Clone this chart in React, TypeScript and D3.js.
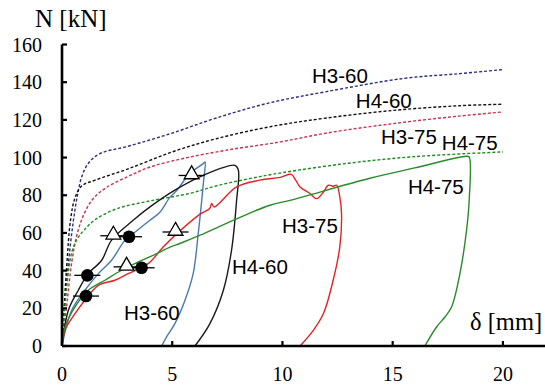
import React from "react";
import * as d3 from "d3";

const W = 545;
const H = 389;

const xTicks = [0, 5, 10, 15, 20];
const yTicks = [0, 20, 40, 60, 80, 100, 120, 140, 160];

// Analytical (dashed) curves
const anH360: [number, number][] = [[0,0],[0.15,25],[0.3,45],[0.5,65],[0.7,80],[0.9,90],[1.2,97],[1.7,102],[3,106],[5,113],[7,121],[9.4,129],[12,135],[15.5,142],[18,144.5],[20,146.7]];
const anH460: [number, number][] = [[0,0],[0.2,40],[0.4,68],[0.6,79],[0.9,85],[1.5,88],[3,94],[5,103],[7,110],[9.5,116.5],[12,121],[15,125],[18,127.5],[20,128.3]];
const anH375: [number, number][] = [[0,0],[0.2,20],[0.45,45],[0.7,60],[1.0,70],[1.4,78],[2,84],[3,90],[4,95],[5.5,99.5],[7.5,104],[9.9,108.3],[12,113],[15,118],[18,122],[20,124.2]];
const anH475: [number, number][] = [[0,0],[0.2,30],[0.45,50],[0.7,57],[1.0,61.5],[1.5,67],[2.5,72.9],[4,77],[5.8,81],[7,85],[8.5,88.8],[10,92],[13,97],[16,100.5],[20,103]];

// Experimental (solid) curves
const exH360: [number, number][] = [[0,0],[0.44,19],[1.04,29.6],[1.65,38.4],[2.25,45.5],[2.86,56.2],[3.23,59.7],[3.99,66.7],[4.44,71],[4.9,79],[5.2,82.5],[5.8,91.5],[6.41,96.8],[6.49,97.7],[6.41,86.2],[6.18,59.7],[5.95,38.4],[5.58,24.3],[5.12,11.9],[4.75,5],[4.52,0]];
const exH460: [number, number][] = [[0,0],[0.29,19],[0.74,29.6],[1.19,38.4],[1.8,45.5],[2.25,56.2],[3.23,66.7],[3.99,73.8],[5.1,82.6],[6.41,90.6],[7.85,95.9],[8.0,93.3],[7.92,77.3],[7.69,50.8],[7.32,29.6],[6.71,11.9],[6.03,0]];
const exH375: [number, number][] = [[0,0],[0.14,8.5],[0.59,17.2],[1.04,24.3],[1.65,32.2],[2.4,34.9],[3.0,38.4],[3.91,43.7],[4.59,52.5],[5.2,59.5],[6.26,70],[6.7,73],[6.79,75.6],[6.9,73.8],[7.92,84.4],[8.98,88],[9.9,89.5],[10.4,91.1],[10.6,88],[10.8,84.4],[11.25,80.9],[11.55,78.2],[11.86,81.7],[12.08,85.3],[12.3,84.8],[12.46,85.3],[12.6,79.1],[12.68,70.3],[12.6,52.5],[12.3,34.9],[11.86,17.2],[11.4,8.3],[10.8,0]];
const exH475: [number, number][] = [[0,0],[0.14,10],[0.59,20.7],[1.19,29.6],[1.95,34.9],[2.7,40.2],[3.46,44.6],[4.2,48.5],[4.9,52.5],[5.35,54.4],[6.26,58.8],[7.92,67.5],[9.43,74.7],[10.34,77.3],[13.97,89],[16,94.5],[18.35,100.7],[18.47,100.3],[18.47,77.3],[18.35,61.4],[18.05,38.4],[17.67,20.7],[17.37,15.4],[16.99,10.1],[16.46,0]];

const circles: [number, number][] = [[1.09,26.5],[1.15,37.5],[3.04,58],[3.61,41.5]];
const triangles: [number, number][] = [[2.33,58.5],[2.93,42],[5.15,60.5],[5.88,90.5]];

const labels: { text: string; x: number; y: number }[] = [
  { text: "H3-60", x: 11.34, y: 139.8 },
  { text: "H4-60", x: 13.33, y: 126.4 },
  { text: "H3-75", x: 14.47, y: 107.4 },
  { text: "H4-75", x: 17.23, y: 104 },
  { text: "H4-75", x: 15.69, y: 80.9 },
  { text: "H3-75", x: 9.98, y: 60 },
  { text: "H4-60", x: 7.71, y: 38.4 },
  { text: "H3-60", x: 2.81, y: 14 },
];

export default function App() {
  const x = d3.scaleLinear().domain([0, 22]).range([62, 547]);
  const y = d3.scaleLinear().domain([0, 160]).range([346, 44.5]);
  const line = d3
    .line<[number, number]>()
    .x((d) => x(d[0]))
    .y((d) => y(d[1]))
    .curve(d3.curveCatmullRom.alpha(0.5));

  const dashed = [
    { data: anH360, color: "#2e2e80" },
    { data: anH460, color: "#111111" },
    { data: anH375, color: "#c8324a" },
    { data: anH475, color: "#1f8a1f" },
  ];
  const solid = [
    { data: exH360, color: "#4a78b0" },
    { data: exH460, color: "#1a1a1a" },
    { data: exH375, color: "#e02424" },
    { data: exH475, color: "#2a8a2a" },
  ];

  const tri = d3.symbol().type(d3.symbolTriangle).size(95)() as string;

  return (
    <svg width={W} height={H} style={{ position: "absolute", left: 0, top: 0, background: "#fff" }}>
      <rect width={W} height={H} fill="#fff" />
      {dashed.map((s, i) => (
        <path key={"d" + i} d={line(s.data) || ""} fill="none" stroke={s.color} strokeWidth={1.4} strokeDasharray="3,2" />
      ))}
      {solid.map((s, i) => (
        <path key={"s" + i} d={line(s.data) || ""} fill="none" stroke={s.color} strokeWidth={1.4} />
      ))}
      {circles.map((p, i) => (
        <g key={"c" + i}>
          <line x1={x(p[0]) - 13} x2={x(p[0]) + 13} y1={y(p[1])} y2={y(p[1])} stroke="#000" strokeWidth={1.3} />
          <circle cx={x(p[0])} cy={y(p[1])} r={6.3} fill="#000" />
        </g>
      ))}
      {triangles.map((p, i) => (
        <g key={"t" + i}>
          <line x1={x(p[0]) - 13} x2={x(p[0]) + 13} y1={y(p[1])} y2={y(p[1])} stroke="#000" strokeWidth={1.3} />
          <path d={tri} transform={`translate(${x(p[0])},${y(p[1]) - 1})`} fill="#fff" stroke="#000" strokeWidth={1.3} />
        </g>
      ))}
      {/* axes */}
      <line x1={x(0)} x2={x(0)} y1={y(0)} y2={y(160)} stroke="#000" strokeWidth={2.6} />
      <line x1={x(0)} x2={W} y1={y(0)} y2={y(0)} stroke="#000" strokeWidth={2.6} />
      {yTicks.map((t) => (
        <g key={"yt" + t}>
          <line x1={x(0)} x2={x(0) + 5} y1={y(t)} y2={y(t)} stroke="#000" strokeWidth={2.2} />
          <text x={42} y={y(t)} dy="0.35em" textAnchor="end" fontFamily="Liberation Serif" fontSize={20} fill="#000">
            {t}
          </text>
        </g>
      ))}
      {xTicks.map((t) => (
        <g key={"xt" + t}>
          <line x1={x(t)} x2={x(t)} y1={y(0)} y2={y(0) - 5} stroke="#000" strokeWidth={2.2} />
          <text x={x(t)} y={381} textAnchor="middle" fontFamily="Liberation Serif" fontSize={20} fill="#000">
            {t}
          </text>
        </g>
      ))}
      <text x={35} y={27} fontFamily="Liberation Serif" fontSize={25} fill="#000">N [kN]</text>
      <text x={470} y={330} fontFamily="Liberation Serif" fontSize={24.5} fill="#000">δ [mm]</text>
      {labels.map((l, i) => (
        <text key={"l" + i} x={x(l.x)} y={y(l.y)} fontFamily="Liberation Sans" fontSize={20.5} fill="#000">
          {l.text}
        </text>
      ))}
    </svg>
  );
}
